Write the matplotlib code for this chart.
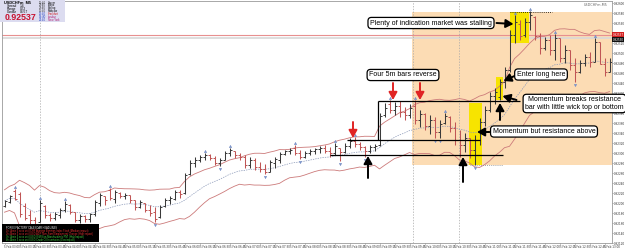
import numpy as np
import pandas as pd
import matplotlib
matplotlib.use("Agg")
import matplotlib.pyplot as plt
from matplotlib.patches import Rectangle

# USDCHFm M5 bars (price)
highs = [0.92206, 0.92216, 0.92228, 0.92222, 0.92200, 0.92186, 0.92172, 0.92206, 0.92196, 0.92180,
         0.92182, 0.92190, 0.92204, 0.92198, 0.92182, 0.92178, 0.92176, 0.92180, 0.92206, 0.92220,
         0.92214, 0.92230, 0.92226, 0.92222, 0.92220, 0.92216, 0.92206, 0.92206, 0.92200, 0.92196,
         0.92192, 0.92196, 0.92210, 0.92214, 0.92226, 0.92226, 0.92260, 0.92286, 0.92292, 0.92296,
         0.92300, 0.92298, 0.92294, 0.92290, 0.92304, 0.92310, 0.92304, 0.92300, 0.92296, 0.92292,
         0.92290, 0.92282, 0.92278, 0.92286, 0.92292, 0.92302, 0.92306, 0.92310, 0.92316, 0.92306,
         0.92304, 0.92308, 0.92310, 0.92314, 0.92316, 0.92312, 0.92320, 0.92310, 0.92320, 0.92330,
         0.92332, 0.92322, 0.92314, 0.92316, 0.92318, 0.92380, 0.92400, 0.92406, 0.92402, 0.92404,
         0.92392, 0.92398, 0.92406, 0.92386, 0.92380, 0.92376, 0.92372, 0.92366, 0.92380, 0.92374,
         0.92362, 0.92346, 0.92340, 0.92330, 0.92336, 0.92370, 0.92394, 0.92422, 0.92430, 0.92448,
         0.92472, 0.92546, 0.92576, 0.92566, 0.92570, 0.92584, 0.92574, 0.92540, 0.92532, 0.92536,
         0.92538, 0.92530, 0.92516, 0.92506, 0.92490, 0.92486, 0.92498, 0.92502, 0.92530, 0.92522,
         0.92490, 0.92490]
lows = [0.92192, 0.92200, 0.92206, 0.92172, 0.92166, 0.92156, 0.92152, 0.92162, 0.92170, 0.92164,
        0.92166, 0.92170, 0.92182, 0.92178, 0.92162, 0.92160, 0.92162, 0.92162, 0.92174, 0.92194,
        0.92196, 0.92206, 0.92200, 0.92210, 0.92208, 0.92200, 0.92186, 0.92190, 0.92182, 0.92174,
        0.92162, 0.92170, 0.92192, 0.92198, 0.92206, 0.92210, 0.92218, 0.92256, 0.92272, 0.92282,
        0.92286, 0.92286, 0.92276, 0.92274, 0.92286, 0.92294, 0.92290, 0.92286, 0.92270, 0.92270,
        0.92266, 0.92262, 0.92258, 0.92262, 0.92270, 0.92280, 0.92296, 0.92298, 0.92296, 0.92288,
        0.92290, 0.92296, 0.92298, 0.92300, 0.92300, 0.92292, 0.92296, 0.92284, 0.92300, 0.92310,
        0.92312, 0.92306, 0.92292, 0.92300, 0.92304, 0.92314, 0.92372, 0.92380, 0.92376, 0.92372,
        0.92366, 0.92370, 0.92358, 0.92352, 0.92346, 0.92338, 0.92330, 0.92330, 0.92358, 0.92342,
        0.92316, 0.92292, 0.92302, 0.92290, 0.92276, 0.92316, 0.92354, 0.92382, 0.92398, 0.92406,
        0.92430, 0.92462, 0.92520, 0.92526, 0.92532, 0.92546, 0.92526, 0.92498, 0.92506, 0.92496,
        0.92486, 0.92482, 0.92480, 0.92466, 0.92442, 0.92460, 0.92474, 0.92472, 0.92482, 0.92478,
        0.92454, 0.92462]
opens = [0.92194, 0.92202, 0.92224, 0.92218, 0.92194, 0.92176, 0.92166, 0.92162, 0.92194, 0.92176,
         0.92170, 0.92176, 0.92186, 0.92196, 0.92182, 0.92166, 0.92174, 0.92168, 0.92178, 0.92200,
         0.92214, 0.92226, 0.92208, 0.92220, 0.92214, 0.92216, 0.92206, 0.92192, 0.92200, 0.92186,
         0.92182, 0.92172, 0.92194, 0.92206, 0.92208, 0.92222, 0.92220, 0.92258, 0.92280, 0.92286,
         0.92292, 0.92296, 0.92290, 0.92280, 0.92286, 0.92300, 0.92304, 0.92296, 0.92292, 0.92276,
         0.92286, 0.92272, 0.92268, 0.92262, 0.92280, 0.92286, 0.92298, 0.92304, 0.92310, 0.92300,
         0.92292, 0.92300, 0.92304, 0.92308, 0.92310, 0.92304, 0.92300, 0.92310, 0.92302, 0.92314,
         0.92324, 0.92318, 0.92312, 0.92304, 0.92312, 0.92316, 0.92376, 0.92398, 0.92386, 0.92394,
         0.92382, 0.92376, 0.92394, 0.92366, 0.92378, 0.92354, 0.92366, 0.92342, 0.92360, 0.92372,
         0.92350, 0.92326, 0.92316, 0.92330, 0.92306, 0.92326, 0.92362, 0.92386, 0.92414, 0.92412,
         0.92442, 0.92466, 0.92536, 0.92558, 0.92536, 0.92562, 0.92572, 0.92534, 0.92510, 0.92526,
         0.92506, 0.92530, 0.92490, 0.92506, 0.92476, 0.92462, 0.92480, 0.92492, 0.92482, 0.92522,
         0.92478, 0.92462]
closes = [0.92204, 0.92214, 0.92208, 0.92178, 0.92170, 0.92166, 0.92158, 0.92200, 0.92176, 0.92170,
          0.92178, 0.92186, 0.92198, 0.92182, 0.92166, 0.92174, 0.92168, 0.92178, 0.92202, 0.92216,
          0.92206, 0.92210, 0.92222, 0.92214, 0.92216, 0.92206, 0.92192, 0.92202, 0.92186, 0.92180,
          0.92168, 0.92192, 0.92206, 0.92210, 0.92222, 0.92218, 0.92256, 0.92280, 0.92286, 0.92292,
          0.92296, 0.92290, 0.92280, 0.92286, 0.92300, 0.92306, 0.92296, 0.92292, 0.92276, 0.92286,
          0.92272, 0.92268, 0.92262, 0.92282, 0.92288, 0.92298, 0.92304, 0.92306, 0.92300, 0.92292,
          0.92300, 0.92304, 0.92308, 0.92310, 0.92304, 0.92300, 0.92314, 0.92302, 0.92314, 0.92324,
          0.92318, 0.92312, 0.92304, 0.92312, 0.92314, 0.92374, 0.92390, 0.92386, 0.92394, 0.92382,
          0.92376, 0.92390, 0.92366, 0.92378, 0.92354, 0.92366, 0.92342, 0.92358, 0.92374, 0.92350,
          0.92326, 0.92316, 0.92330, 0.92306, 0.92326, 0.92362, 0.92386, 0.92414, 0.92422, 0.92442,
          0.92466, 0.92536, 0.92562, 0.92534, 0.92562, 0.92576, 0.92534, 0.92510, 0.92526, 0.92506,
          0.92530, 0.92490, 0.92506, 0.92476, 0.92462, 0.92480, 0.92492, 0.92482, 0.92522, 0.92478,
          0.92462, 0.92482]

current_price = 0.92537
bid_line = 0.92530
session_times = ["11:40", "23:40", "23:40", "11:40", "13:40", "14:40", "24:40"]
session_names = ["Server", "Tokyo", "Beijing", "Moscow", "Frankfurt", "London", "New York"]
headlines = ["FOREX FACTORY CALENDAR HEADLINES",
             "1h 14min 5 secs until CHF Average Earnings Index Flash (Medium impact)",
             "2h 44min 5 secs until USD ADP Non-Farm Employment Change (High impact)",
             "3h 14min 5 secs until USD ISM Non-Manufacturing PMI (High impact)",
             "4h 44min 5 secs until USD Crude Oil Inventories (Low impact)"]

highs, lows = np.array(highs), np.array(lows)
opens, closes = np.array(opens), np.array(closes)
n = len(closes)
x = np.arange(n)
bar_times = pd.date_range("2014-02-05 03:00", periods=n, freq="5min")

# keltner style envelope from the bars
mid = pd.Series(closes).ewm(span=20).mean().values
rng = pd.Series(highs - lows).ewm(span=10).mean().values
upper, lower = mid + 1.6 * rng, mid - 1.6 * rng

fig = plt.figure(figsize=(6.25, 2.49), dpi=100)
ax = fig.add_axes([2 / 625, 6 / 249, 610 / 625, 242 / 249])
ax.set_xlim(-0.5, n - 0.5)
ax.set_ylim(0.92120, 0.92604)
FONT = "Liberation Sans"

# orange zone and highlights
ax.add_patch(Rectangle((81.5, 0.92276), n - 0.5 - 81.5, 0.00306, fc="#fcdcb4", ec="none", zorder=0))
for x0, x1, y0, y1 in [(101.1, 104.9, 0.92520, 0.92582), (98.3, 99.7, 0.92406, 0.92452),
                       (92.9, 95.5, 0.92276, 0.92400)]:
    ax.add_patch(Rectangle((x0, y0), x1 - x0, y1 - y0, fc="#f7e400", ec="none", zorder=1))

ax.axhline(bid_line, color="#d8d8d8", lw=1.2, zorder=0.5)
ax.axhline(current_price, color="#e79090", lw=0.8, zorder=0.6)
for vx in [7.1, 81.7, 90.9]:
    ax.axvline(vx, color="#a8a8a8", lw=0.5, ls=(0, (2, 2)), zorder=0.7)

ax.plot(x, upper, color="#cc7a7a", lw=0.6, zorder=2)
ax.plot(x, lower, color="#cc7a7a", lw=0.6, zorder=2)
ax.plot(x, mid, color="#8a98b8", lw=0.5, ls=(0, (2, 1.5)), zorder=2)

# OHLC bars
cols = np.where(closes >= opens, "#3a3a3a", "#c05555")
ax.vlines(x, lows, highs, colors=cols, lw=0.75, zorder=3)
ax.hlines(opens, x - 0.4, x, colors=cols, lw=0.7, zorder=3)
ax.hlines(closes, x, x + 0.4, colors=cols, lw=0.7, zorder=3)

# fractals
for i in range(2, n - 2):
    if highs[i] == highs[i - 2:i + 3].max():
        ax.plot(i, highs[i] + 0.00005, marker="^", ms=1.8, color="#7a92c8", mew=0.3, zorder=3)
    if lows[i] == lows[i - 2:i + 3].min():
        ax.plot(i, lows[i] - 0.00005, marker="v", ms=1.8, color="#7a92c8", mew=0.3, zorder=3)

# support / resistance lines
ax.hlines(0.92404, 74.7, 103.1, color="black", lw=0.9, zorder=4)
ax.hlines(0.92326, 68.5, 95.1, color="black", lw=0.9, zorder=4)
ax.hlines(0.92296, 65.1, 99.7, color="black", lw=0.9, zorder=4)
ax.vlines(74.7, 0.92326, 0.92404, color="black", lw=0.9, zorder=4)
ax.hlines(0.92582, 101.1, 109.5, color="black", lw=0.6, ls=(0, (1, 1.5)), zorder=4)
ax.hlines(0.92276, 93.0, 99.7, color="#888888", lw=0.6, ls=(0, (1, 1.5)), zorder=4)


def arrow(tail, tip, color="black", lw=1.4):
    ax.annotate("", xy=tip, xytext=tail, zorder=6, annotation_clip=False,
                arrowprops=dict(arrowstyle="-|>,head_length=0.45,head_width=0.25",
                                color=color, lw=lw, shrinkA=0, shrinkB=0))


def note(xc, yc, text):
    ax.text(xc, yc, text, ha="center", va="center", fontsize=5.0, family=FONT,
            linespacing=1.05, zorder=7, clip_on=False,
            bbox=dict(boxstyle="round,pad=0.3,rounding_size=0.5", fc="white", ec="black", lw=0.9))


note(85.3, 0.92560, "Plenty of indication market was stalling")
note(79.7, 0.92456, "Four 5m bars reverse")
note(107.3, 0.92457, "Enter long here")
note(114.0, 0.92399, "Momentum breaks resistance\nbar with little wick top or bottom")
note(107.9, 0.92343, "Momentum but resistance above")

arrow((98.4, 0.92560), (101.8, 0.92558))
arrow((102.0, 0.92454), (99.8, 0.92444))
arrow((102.4, 0.92406), (99.6, 0.92414))
arrow((97.0, 0.92342), (94.5, 0.92342))
arrow((99.1, 0.92366), (99.1, 0.92400))
arrow((72.7, 0.92250), (72.7, 0.92294))
arrow((91.7, 0.92242), (91.7, 0.92292))
for ax_x in [69.7]:
    arrow((ax_x, 0.92362), (ax_x, 0.92330), color="#e02424")
for ax_x in [77.7, 83.1]:
    arrow((ax_x, 0.92440), (ax_x, 0.92406), color="#e02424")

# axes styling
for s in ax.spines.values():
    s.set_color("#9a9a9a")
    s.set_linewidth(0.6)
ax.yaxis.tick_right()
yt = np.arange(0.9212, 0.92605, 0.0002)
ax.set_yticks(yt)
ax.set_yticklabels([f"{v:.5f}" for v in yt])
ax.tick_params(axis="y", labelsize=2.0, length=1.0, width=0.4, pad=0.4, colors="#333333")
xt = np.arange(0, n - 1, 3)
ax.set_xticks(xt)
ax.set_xticklabels([bar_times[t].strftime("%-d Feb %H:%M") for t in xt])
ax.tick_params(axis="x", labelsize=2.0, length=1.0, width=0.4, pad=0.3, colors="#333333")
for lab in ax.get_xticklabels():
    lab.set_horizontalalignment("left")

# price tags on the axis
ax.text(1.001, current_price, f"{current_price:.5f}", transform=ax.get_yaxis_transform(),
        fontsize=2.0, color="white", va="center", ha="left", zorder=8, clip_on=False,
        bbox=dict(boxstyle="square,pad=0.15", fc="#d42020", ec="none"))
ax.text(1.001, bid_line - 0.00003, f"{bid_line:.5f}", transform=ax.get_yaxis_transform(),
        fontsize=2.0, color="white", va="center", ha="left", zorder=8, clip_on=False,
        bbox=dict(boxstyle="square,pad=0.15", fc="#111111", ec="none"))
ax.text(0.993, 0.99, "USDCHFm,M5", transform=ax.transAxes, fontsize=2.4, color="#666666",
        ha="right", va="top")

# info panel, top left
fig.add_artist(Rectangle((0, 227 / 249), 65 / 625, 22 / 249, transform=fig.transFigure,
                         fc="#dcdcf0", ec="none", zorder=5))
fig.text(4 / 625, 1 - 3.0 / 249, "USDCHFm  M5", fontsize=2.8, weight="bold", va="center",
         family=FONT, zorder=6)
info = [("Spread", "1.4"), ("Range", "0.72"), ("Candle", "04:57")]
for k, (lab, val) in enumerate(info):
    yy = 1 - (6 + 2.9 * k) / 249
    fig.text(7 / 625, yy, lab, fontsize=2.3, va="center", family=FONT, zorder=6)
    fig.text(20 / 625, yy, val, fontsize=2.3, va="center", family=FONT, zorder=6)
fig.text(5 / 625, 1 - 17.5 / 249, f"{current_price:.5f}", fontsize=6.3, weight="bold",
         color="#c8102e", va="center", family=FONT, zorder=6)
name_cols = ["black", "black", "black", "black", "#d02020", "#b02070", "#b02070"]
time_cols = ["#333333", "#333333", "#333333", "#333333", "#2040c0", "#2040c0", "#2040c0"]
for k, (t, nm) in enumerate(zip(session_times, session_names)):
    yy = 1 - (2.5 + 2.9 * k) / 249
    fig.text(39 / 625, yy, t, fontsize=2.0, va="center", color=time_cols[k], family=FONT, zorder=6)
    fig.text(48 / 625, yy, nm, fontsize=2.0, va="center", color=name_cols[k], family=FONT, zorder=6)

# calendar box, bottom left
ax.add_patch(Rectangle((0, 0.004), 97 / 610, 18 / 242, transform=ax.transAxes,
                       fc="black", ec="none", zorder=8, clip_on=False))
hl_cols = ["white", "#e03030", "#e03030", "#40d040", "#40d040"]
for k, (h, c) in enumerate(zip(headlines, hl_cols)):
    ax.text(4 / 610, (15 - 3.0 * k) / 242, h, transform=ax.transAxes, fontsize=1.8,
            color=c, va="center", zorder=9, family=FONT)

fig.savefig("out.png", dpi=100, facecolor="white")
